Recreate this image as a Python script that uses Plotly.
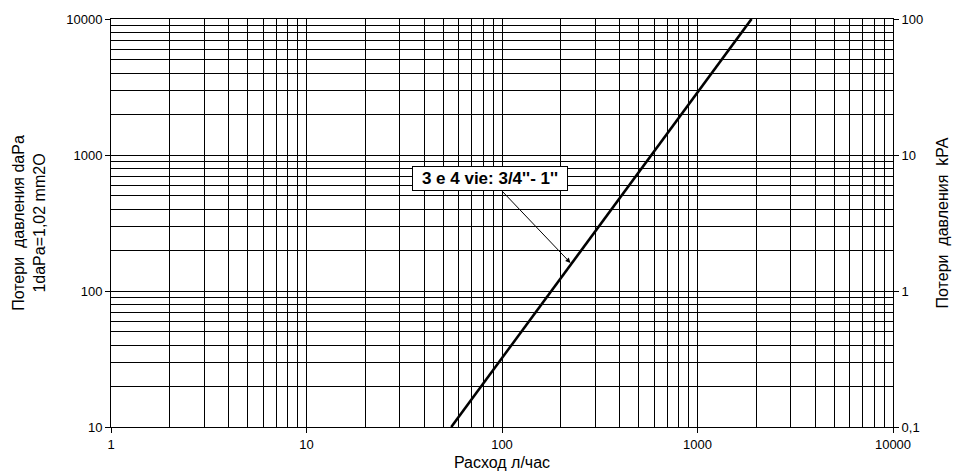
import plotly.graph_objects as go

# Data
flow_lph = [55, 1890]          # Расход л/час
dp_dapa = [10, 10000]          # Потери давления daPa

x_tick_vals = [1, 10, 100, 1000, 10000]
x_tick_text = ["1", "10", "100", "1000", "10000"]
y_tick_vals = [10, 100, 1000, 10000]
y_tick_text = ["10", "100", "1000", "10000"]
y2_tick_vals = [0.1, 1, 10, 100]
y2_tick_text = ["0,1", "1", "10", "100"]

label_text = "3 e 4 vie: 3/4''- 1''"

FONT = "Liberation Sans, Arial, sans-serif"

def minor_vals(lo_exp, hi_exp):
    vals = []
    for e in range(lo_exp, hi_exp):
        for m in range(2, 10):
            vals.append(m * 10 ** e)
    return vals

fig = go.Figure()
fig.add_trace(go.Scatter(
    x=flow_lph, y=dp_dapa, mode="lines",
    line=dict(color="black", width=2.6),
    showlegend=False, hoverinfo="skip",
))
# invisible trace for secondary axis
fig.add_trace(go.Scatter(
    x=[1], y=[0.1], yaxis="y2", mode="markers",
    marker=dict(opacity=0), showlegend=False, hoverinfo="skip",
))

axis_common = dict(
    type="log", showline=True, linecolor="black", linewidth=1,
    gridcolor="black", gridwidth=1, zeroline=False, automargin=False,
    ticks="outside", ticklen=5, tickcolor="black",
    tickfont=dict(family=FONT, size=13, color="black"),
)

fig.update_layout(
    width=953, height=471,
    margin=dict(l=111, r=60, t=19, b=44),
    paper_bgcolor="white", plot_bgcolor="white",
    font=dict(family=FONT, color="black"),
    xaxis=dict(
        **axis_common, range=[0, 4], mirror=True,
        tickmode="array", tickvals=x_tick_vals, ticktext=x_tick_text,
        minor=dict(tickmode="array", tickvals=minor_vals(0, 4),
                   showgrid=True, gridcolor="black", gridwidth=1, ticks=""),
        title=dict(text="Расход л/час", font=dict(family=FONT, size=16),
                   standoff=9),
    ),
    yaxis=dict(
        **axis_common, range=[1, 4], mirror=True,
        tickmode="array", tickvals=y_tick_vals, ticktext=y_tick_text,
        minor=dict(tickmode="array", tickvals=minor_vals(1, 4),
                   showgrid=True, gridcolor="black", gridwidth=1, ticks=""),
        title=dict(text="Потери\u00a0\u00a0давления daPa<br>1daPa=1,02 mm2O",
                   font=dict(family=FONT, size=16), standoff=16),
    ),
    yaxis2=dict(
        type="log", range=[-1, 2], overlaying="y", side="right",
        showgrid=False, zeroline=False, showline=False, automargin=False,
        ticks="outside", ticklen=5, tickcolor="black",
        tickmode="array", tickvals=y2_tick_vals, ticktext=y2_tick_text,
        tickfont=dict(family=FONT, size=13, color="black"),
        title=dict(text="Потери\u00a0\u00a0давления\u00a0\u00a0kPA",
                   font=dict(family=FONT, size=16), standoff=14),
    ),
    annotations=[dict(
        x=2.3502, y=2.2068, xref="x", yref="y",
        text="<b>" + label_text + "</b>",
        font=dict(family=FONT, size=17, color="black"),
        showarrow=True, arrowhead=2, arrowsize=1, arrowwidth=1,
        arrowcolor="black", ax=-80, ay=-84, width=150,
        bgcolor="white", bordercolor="black", borderwidth=1, borderpad=2,
    )],
)

fig.write_html("out.html", config={"displayModeBar": False},
               post_script="document.body.style.margin='0px';document.body.style.overflow='hidden';")
